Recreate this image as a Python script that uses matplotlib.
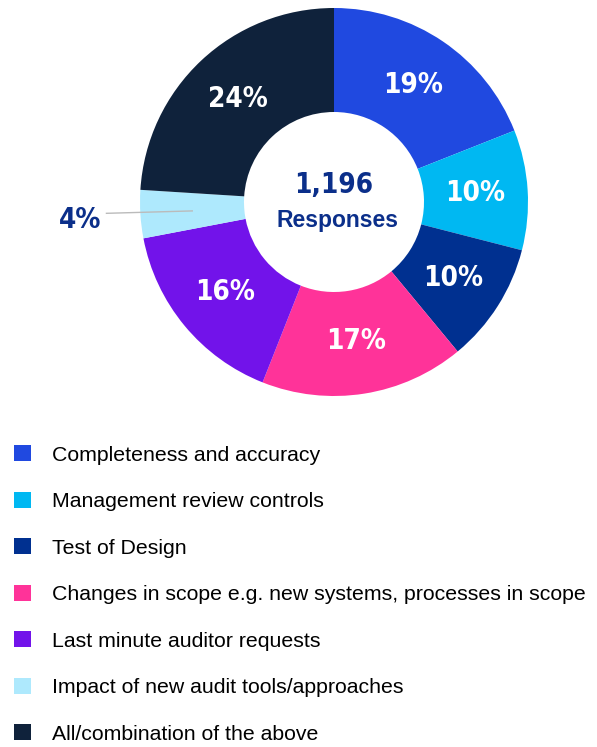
import numpy as np
import matplotlib
matplotlib.use('Agg')
import matplotlib.pyplot as plt
from matplotlib import font_manager

categories = [
    'Completeness and accuracy',
    'Management review controls',
    'Test of Design',
    'Changes in scope e.g. new systems, processes in scope',
    'Last minute auditor requests',
    'Impact of new audit tools/approaches',
    'All/combination of the above',
]
shares = [19, 10, 10, 17, 16, 4, 24]
colors = ['#2049E0', '#00B8F2', '#003090', '#FF3399', '#7213EA', '#AEE9FD', '#0F223B']
total_responses = '1,196'

# look for any narrow/condensed bold face that is installed
narrow = None
for f in font_manager.fontManager.ttflist:
    if ('Condensed' in f.name or 'Narrow' in f.name or f.stretch in ('condensed', 'semi-condensed')) \
            and f.weight in (700, 'bold'):
        narrow = f.fname
        break
if narrow is None:
    for f in font_manager.fontManager.ttflist:
        if 'Condensed' in f.name or 'Narrow' in f.name or f.stretch == 'condensed':
            narrow = f.fname
            break

def cond_prop(size):
    if narrow:
        return font_manager.FontProperties(fname=narrow, size=size, weight='bold')
    return font_manager.FontProperties(family='DejaVu Sans', size=size, weight='bold',
                                       stretch='condensed')

W, H = 597, 747
fig = plt.figure(figsize=(W / 100, H / 100), dpi=100)
ax = fig.add_axes([0, 0, 1, 1])
ax.set_xlim(0, W)
ax.set_ylim(0, H)
ax.set_aspect('equal')
ax.axis('off')

cx, cy = 334, H - 202
r_out, r_in = 194, 90

wedges, _ = ax.pie(shares, colors=colors, startangle=90, counterclock=False,
                   radius=r_out, center=(cx, cy),
                   wedgeprops=dict(width=r_out - r_in, linewidth=0))
ax.set_xlim(0, W)
ax.set_ylim(0, H)

navy = '#0B2F8A'
for w, s in zip(wedges, shares):
    ang = np.deg2rad((w.theta1 + w.theta2) / 2)
    if s < 5:
        r0, r1, rt = 142, 228, 254
        ax.plot([cx + r0 * np.cos(ang), cx + r1 * np.cos(ang)],
                [cy + r0 * np.sin(ang), cy + r1 * np.sin(ang) + 3],
                color='#BBBBBB', lw=1)
        ax.text(cx + rt * np.cos(ang), cy + rt * np.sin(ang) - 2, f'{s}%',
                ha='center', va='center', color=navy, fontproperties=cond_prop(20))
    else:
        rm = 141
        ax.text(cx + rm * np.cos(ang), cy + rm * np.sin(ang), f'{s}%',
                ha='center', va='center', color='white', fontproperties=cond_prop(20))

ax.text(cx, H - 185, total_responses, ha='center', va='center', color=navy,
        fontproperties=cond_prop(20))
ax.text(cx + 3, H - 220, 'Responses', ha='center', va='center', color=navy,
        fontsize=16.5, fontweight='bold', family='Liberation Sans')

leg = fig.legend(wedges, categories, loc='upper left',
                 bbox_to_anchor=(14 / W, 1 - 445 / H), frameon=False,
                 prop={'family': 'Liberation Sans', 'size': 15.3},
                 handlelength=0.8, handleheight=0.8, handletextpad=0.98,
                 labelspacing=1.27, borderpad=0, borderaxespad=0)

fig.savefig('out.png', dpi=100)
